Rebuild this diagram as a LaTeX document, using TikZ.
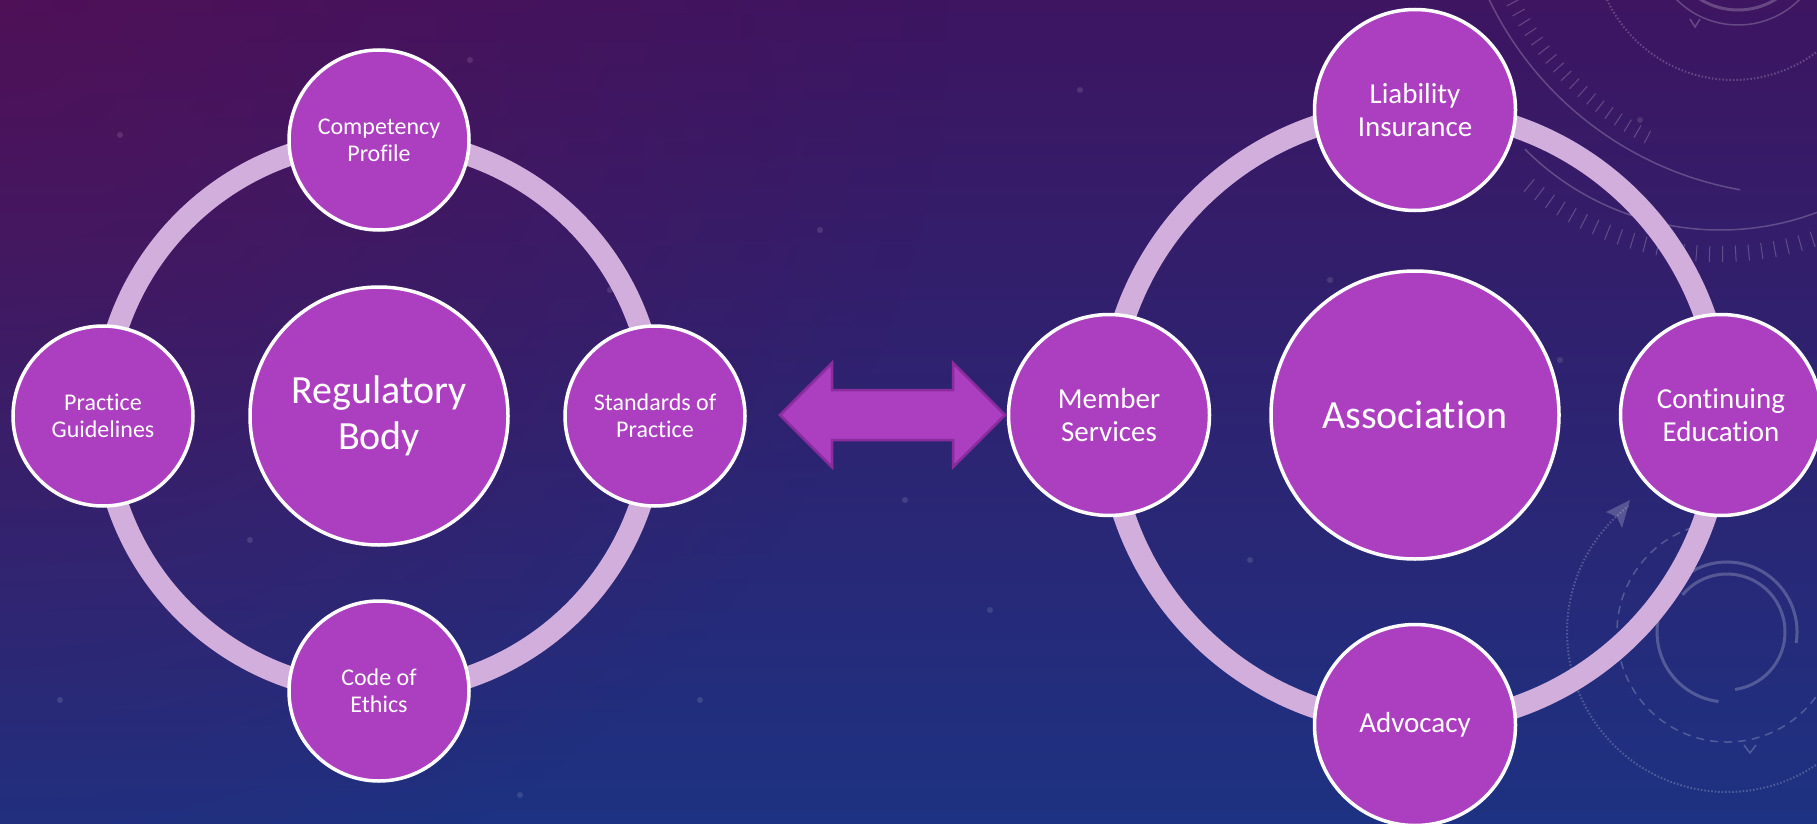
\documentclass[tikz,border=0pt]{standalone}
\usepackage{fontspec}
\setmainfont{Carlito}[Ligatures=NoCommon]
\usetikzlibrary{fadings,arrows.meta}
\definecolor{bgtop}{HTML}{3D1561}
\definecolor{bgbot}{HTML}{1D3282}
\definecolor{bgmag}{HTML}{6A0A4A}
\definecolor{bubblefill}{HTML}{AC3EC0}
\definecolor{ringcol}{HTML}{D2AEDC}
\definecolor{arrowedge}{HTML}{8A2C9E}
\tikzfading[name=radfade, inner color=transparent!0, outer color=transparent!100]
\begin{document}
\begin{tikzpicture}[x=1pt,y=-1pt,
  bubble/.style={circle, fill=bubblefill, draw=white, line width=3.5pt, inner sep=0pt, align=center, text=white},
  smallbub/.style={bubble, minimum size=180pt, font=\fontsize{24}{27}\selectfont},
  midbub/.style={bubble, minimum size=201pt, font=\fontsize{29}{33}\selectfont},
  bigbub/.style={bubble, font=\fontsize{40}{46}\selectfont},
  ringline/.style={draw=ringcol, line width=22pt},
  deco/.style={draw=white, draw opacity=0.22, line width=1.5pt},
  blockarrow/.style={fill=bubblefill, draw=arrowedge, line width=2.5pt, line join=miter}]
\useasboundingbox (0,0) rectangle (1817,824);
% background
\shade[top color=bgtop, bottom color=bgbot] (0,0) rectangle (1817,824);
\begin{scope}
  \clip (0,0) rectangle (1817,824);
  \fill[bgmag, fill opacity=0.4, path fading=radfade] (0,0) circle (950);
  % top-right gauge decoration
  \draw[deco] (1800,-150) ++(160:345) arc[start angle=160, end angle=100, radius=345];
  \foreach \a in {118,120,...,158} \draw[deco, line width=1pt] (1800,-150) ++(\a:318) -- ++(\a:14);
  \draw[deco] (1720,-46) ++(135:276) arc[start angle=135, end angle=60, radius=276];
  \foreach \a in {62,64.5,...,130} \draw[deco, line width=1pt] (1720,-46) ++(\a:292) -- ++(\a:16);
  \draw[deco, dotted, line width=2pt] (1733,-59) ++(155:139) arc[start angle=155, end angle=40, radius=139];
  \draw[deco] (1738,-62) ++(135:87) arc[start angle=135, end angle=45, radius=87];
  \draw[deco, line width=3pt] (1738,-62) ++(122:72) arc[start angle=122, end angle=58, radius=72];
  \draw[deco] (1690,19) -- (1695,27) -- (1700,19);
  % bottom-right decoration
  \draw[deco, line width=3pt] (1727,632) ++(9:70) arc[start angle=9, end angle=-263, radius=70];
  \draw[deco, line width=3pt] (1727,632) ++(82:58) arc[start angle=82, end angle=-140, radius=58];
  \draw[deco, dashed, dash pattern=on 8pt off 6pt] (1727,632) ++(-108:110) arc[start angle=-108, end angle=-326, radius=110];
  \draw[deco] (1744,745) -- (1750,753) -- (1756,745);
  \draw[deco, dotted, line width=2pt] (1727,632) ++(-310:160) arc[start angle=-310, end angle=-128, radius=160];
  \fill[white, fill opacity=0.22] (1630,500) -- (1606,512) -- (1617,517) -- (1622,528) -- cycle;
  % faint stars
  \foreach \p in {(120,135),(470,60),(610,290),(820,230),(905,500),(1080,90),(250,540),(700,700),(1330,280),(1560,360),(990,610),(60,700),(1250,560),(520,795),(1640,120)}
    \fill[white, fill opacity=0.12] \p circle (3);
\end{scope}
% left cluster
\coordinate (lc) at (379,416);
\draw[ringline] (lc) circle (276);
\node[bigbub, minimum size=258pt] (reg) at (lc) {Regulatory\\Body};
\node[smallbub] (comp) at (379,140) {Competency\\Profile};
\node[smallbub] (pg) at (103,416) {Practice\\Guidelines};
\node[smallbub] (std) at (655,416) {Standards of\\Practice};
\node[smallbub] (eth) at (379,691) {Code of\\Ethics};
% right cluster
\coordinate (rc) at (1415,417);
\draw[ringline] (rc) circle (307);
\node[bigbub, minimum size=288pt] (assoc) at (1415,415) {Association};
\node[midbub] (liab) at (1415,110) {Liability\\Insurance};
\node[midbub] (mem) at (1109,415) {Member\\Services};
\node[midbub] (cont) at (1721,415) {Continuing\\Education};
\node[midbub] (adv) at (1415,725) {Advocacy};
% double block arrow
\draw[blockarrow] (780,415) -- (832,363) -- (832,390) -- (953,390) -- (953,363) -- (1005,415)
  -- (953,467) -- (953,440) -- (832,440) -- (832,467) -- cycle;
\end{tikzpicture}
\end{document}
